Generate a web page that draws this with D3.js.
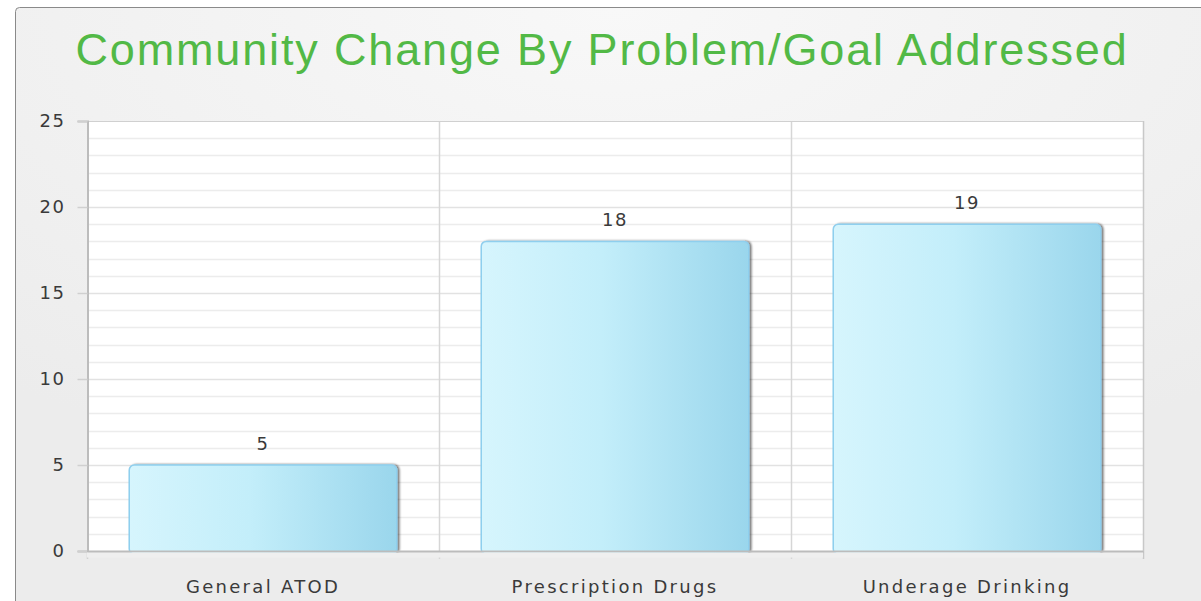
<!DOCTYPE html>
<html>
<head>
<meta charset="utf-8">
<script src="https://cdn.jsdelivr.net/npm/d3@7"></script>
<style>
  html, body { margin: 0; padding: 0; background: #fff; }
  svg { display: block; }
  .lbl { font-family: 'DejaVu Sans', Verdana, sans-serif; font-size: 18px; fill: #3a3a3a; }
</style>
</head>
<body>
<svg id="chart" width="1201" height="601"></svg>
<script>
// Chart data
var categories = ['General ATOD', 'Prescription Drugs', 'Underage Drinking'];
var values = [5, 18, 19];
var yTicks = [0, 5, 10, 15, 20, 25];
var title = 'Community Change By Problem/Goal Addressed';

var svg = d3.select('#chart');
var plot = { left: 87, right: 1143, top: 121, bottom: 551 };

var defs = svg.append('defs');

// background gradient (lighter near the top centre)
var bg = defs.append('radialGradient')
    .attr('id', 'bg').attr('cx', '0.5').attr('cy', '0').attr('r', '0.8');
bg.append('stop').attr('offset', '0%').attr('stop-color', '#f8f8f8');
bg.append('stop').attr('offset', '100%').attr('stop-color', '#ececec');

var barGrad = defs.append('linearGradient')
    .attr('id', 'barGrad').attr('x1', '0').attr('x2', '1').attr('y1', '0').attr('y2', '0');
barGrad.append('stop').attr('offset', '0%').attr('stop-color', '#d6f5fd');
barGrad.append('stop').attr('offset', '45%').attr('stop-color', '#c3eefa');
barGrad.append('stop').attr('offset', '100%').attr('stop-color', '#9ad6ec');

var shadow = defs.append('filter').attr('id', 'shadow')
    .attr('x', '-10%').attr('y', '-10%').attr('width', '130%').attr('height', '130%');
shadow.append('feDropShadow')
    .attr('dx', 2).attr('dy', 0).attr('stdDeviation', 1.2)
    .attr('flood-color', '#000').attr('flood-opacity', 0.55);

// outer frame
svg.append('rect')
    .attr('x', 15.5).attr('y', 7.5)
    .attr('width', 1200).attr('height', 610)
    .attr('rx', 4)
    .attr('fill', 'url(#bg)')
    .attr('stroke', '#8a8a8a')
    .attr('stroke-width', 1);

// title
svg.append('text')
    .attr('x', 602).attr('y', 65)
    .attr('text-anchor', 'middle')
    .attr('font-family', "'Liberation Sans', Arial, sans-serif")
    .attr('font-size', 45)
    .attr('letter-spacing', 1.85)
    .attr('fill', '#52b946')
    .text(title);

// scales
var yScale = d3.scaleLinear().domain([0, 25]).range([plot.bottom, plot.top]);
var xScale = d3.scaleBand().domain(categories).range([plot.left, plot.right]).paddingInner(0).paddingOuter(0);

// plot background
svg.append('rect')
    .attr('x', plot.left).attr('y', plot.top)
    .attr('width', plot.right - plot.left).attr('height', plot.bottom - plot.top)
    .attr('fill', '#fff');

// minor gridlines
svg.append('g').selectAll('line')
    .data(d3.range(1, 25))
    .enter()
  .append('line')
    .attr('x1', plot.left).attr('x2', plot.right)
    .attr('y1', function (d) { return Math.round(yScale(d)) + 0.5; })
    .attr('y2', function (d) { return Math.round(yScale(d)) + 0.5; })
    .attr('stroke', function (d) { return d % 5 === 0 ? '#e2e2e2' : '#ececec'; })
    .attr('stroke-width', 1.5);

// vertical category dividers
svg.append('g').selectAll('line')
    .data(categories.slice(1))
    .enter()
  .append('line')
    .attr('x1', function (d) { return Math.round(xScale(d)) + 0.5; })
    .attr('x2', function (d) { return Math.round(xScale(d)) + 0.5; })
    .attr('y1', plot.top).attr('y2', plot.bottom + 8)
    .attr('stroke', '#d6d6d6')
    .attr('stroke-width', 1.5);

// right border
svg.append('line')
    .attr('x1', plot.right + 0.5).attr('x2', plot.right + 0.5)
    .attr('y1', plot.top).attr('y2', plot.bottom + 8)
    .attr('stroke', '#c8c8c8').attr('stroke-width', 1.5);

// top border
svg.append('line')
    .attr('x1', plot.left).attr('x2', plot.right)
    .attr('y1', plot.top + 0.5).attr('y2', plot.top + 0.5)
    .attr('stroke', '#d0d0d0').attr('stroke-width', 1);

// y axis
var yAxis = d3.axisLeft(yScale).tickValues(yTicks).tickSize(10).tickPadding(12);
var yG = svg.append('g')
    .attr('transform', 'translate(' + (plot.left + 0.5) + ',0)')
    .call(yAxis);
yG.attr('font-family', null).attr('font-size', null);
yG.select('.domain').attr('stroke', '#bcbcbc').attr('stroke-width', 2);
yG.selectAll('.tick line').attr('stroke', '#d0d0d0').attr('stroke-width', 1.5);
yG.selectAll('.tick text')
    .attr('class', 'lbl')
    .attr('fill', null)
    .attr('letter-spacing', 1.5);

// x axis
var xAxis = d3.axisBottom(xScale).tickSize(0).tickPadding(29);
var xG = svg.append('g')
    .attr('transform', 'translate(0,' + (plot.bottom + 0.5) + ')')
    .call(xAxis);
xG.attr('font-family', null).attr('font-size', null);
xG.select('.domain').attr('stroke', '#bcbcbc').attr('stroke-width', 2);
xG.selectAll('.tick text')
    .attr('class', 'lbl')
    .attr('fill', null)
    .attr('letter-spacing', 2.3);

// left bottom tick
svg.append('line')
    .attr('x1', plot.left + 0.5).attr('x2', plot.left + 0.5)
    .attr('y1', plot.bottom).attr('y2', plot.bottom + 8)
    .attr('stroke', '#d0d0d0').attr('stroke-width', 1.5);

// bars
var barW = xScale.bandwidth() * 0.76;
var bars = svg.append('g');
bars.selectAll('rect')
    .data(values)
    .enter()
  .append('rect')
    .attr('x', function (d, i) { return xScale(categories[i]) + (xScale.bandwidth() - barW) / 2; })
    .attr('y', function (d) { return yScale(d); })
    .attr('width', barW)
    .attr('height', function (d) { return yScale(0) - yScale(d) + 3; })
    .attr('rx', 5)
    .attr('fill', 'url(#barGrad)')
    .attr('stroke', '#8fcfee')
    .attr('stroke-width', 1.5)
    .attr('filter', 'url(#shadow)');

// redraw bottom axis line over bars
svg.append('line')
    .attr('x1', plot.left).attr('x2', plot.right)
    .attr('y1', plot.bottom + 0.5).attr('y2', plot.bottom + 0.5)
    .attr('stroke', '#bcbcbc').attr('stroke-width', 2);
svg.append('rect')
    .attr('x', plot.left).attr('y', plot.bottom + 1.5)
    .attr('width', plot.right - plot.left).attr('height', 5)
    .attr('fill', '#efefef');

// value labels
bars.selectAll('text')
    .data(values)
    .enter()
  .append('text')
    .attr('class', 'lbl')
    .attr('x', function (d, i) { return xScale(categories[i]) + xScale.bandwidth() / 2; })
    .attr('y', function (d) { return yScale(d) - 15; })
    .attr('text-anchor', 'middle')
    .attr('letter-spacing', 1.5)
    .text(function (d) { return d; });
</script>
</body>
</html>
